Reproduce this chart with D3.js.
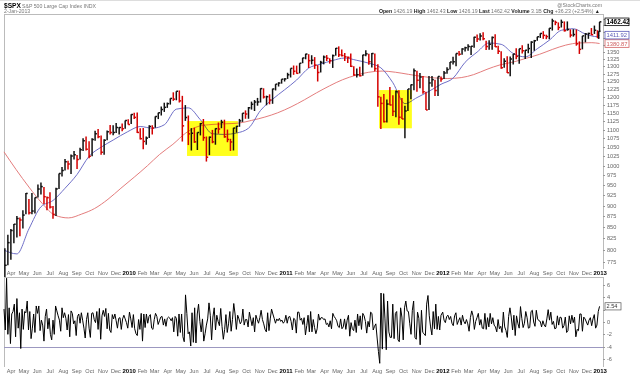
<!DOCTYPE html>
<html><head><meta charset="utf-8">
<script src="https://cdn.jsdelivr.net/npm/d3@7"></script>
<style>
body{margin:0;background:#fff}
svg{display:block;font-family:"Liberation Sans",Arial,sans-serif}
</style></head><body>
<svg width="640" height="375"></svg>
<script>
// weekly bars (Fri), then Dec 31 2012 and Jan 2 2013
const close09 = [768.5,815.9,842.5,856.6,869.6,866.2,877.5,929.2,882.9,887.0,919.1,940.1,946.2,921.2,918.9,896.4,879.1,940.4,979.3,987.5,1010.5,1004.1,1026.1,1028.9,1016.4,1042.7,1068.3,1044.4,1025.2,1071.5,1087.7,1079.6,1036.2,1069.3,1093.5,1091.4,1091.5,1106.0,1106.4,1102.5,1126.5,1115.1]
const high09 = [804,833.0,845.6,856.9,875.6,871.8,888.7,930.2,915.6,930.2,919.1,951.7,956.2,945.0,922.0,931.9,898.7,943.0,979.8,996.7,1018.0,1012.9,1029.6,1039.5,1028.5,1048.2,1074.8,1080.2,1066.3,1075.1,1096.6,1101.4,1083.0,1072.0,1097.6,1113.7,1112.4,1119.1,1107.3,1117.7,1126.5,1130.4]
const low09 = [745,768.6,779.8,814.5,826.8,829.9,847.1,879.2,878.9,879.6,881.5,919.0,926.4,903.8,888.9,893.0,869.3,875.3,940.0,972.0,987.0,990.0,978.5,1016.2,991.0,1016.4,1039.5,1041.2,1019.9,1025.2,1068.0,1075.0,1029.4,1029.4,1069.3,1086.0,1083.7,1090.2,1085.9,1095.4,1102.5,1115.0]
const close10 = [1145.0,1136.0,1091.8,1073.9,1066.2,1075.5,1109.2,1104.5,1138.7,1150.0,1159.9,1166.6,1178.1,1194.4,1192.1,1217.3,1186.7,1110.9,1135.7,1087.7,1089.4,1064.9,1091.6,1117.5,1076.8,1022.6,1078.0,1064.9,1102.7,1101.6,1121.6,1079.3,1071.7,1064.6,1104.5,1109.6,1125.6,1148.7,1146.2,1165.2,1176.2,1183.1,1183.3,1225.9,1199.2,1199.7,1189.4,1224.7,1240.4,1243.9,1256.8,1257.6]
const high10 = [1145.4,1150.4,1150.5,1103.7,1104.7,1080.0,1112.4,1112.4,1139.0,1150.2,1169.2,1181.0,1181.4,1194.7,1213.9,1217.3,1219.8,1202.6,1173.6,1141.8,1104.3,1105.7,1092.0,1119.3,1131.2,1080.0,1080.0,1099.1,1103.7,1120.9,1128.8,1129.2,1100.1,1073.5,1105.1,1110.9,1131.5,1148.9,1157.2,1167.7,1184.4,1189.4,1196.1,1227.1,1226.8,1203.2,1207.4,1225.6,1240.4,1246.7,1256.8,1260.0]
const low10 = [1116.6,1131.1,1090.2,1071.6,1044.5,1056.5,1075.5,1086.0,1105.4,1131.0,1141.7,1152.6,1165.0,1175.1,1186.8,1188.6,1181.6,1065.8,1125.6,1055.9,1040.8,1062.1,1042.2,1083.2,1067.9,1010.9,1028.3,1061.0,1056.9,1088.0,1104.0,1076.6,1063.9,1039.7,1040.9,1091.2,1108.2,1122.6,1131.9,1131.9,1159.7,1155.3,1171.7,1181.6,1194.1,1173.0,1176.0,1177.6,1219.9,1232.6,1242.0,1249.0]
const close11 = [1271.5,1293.2,1283.4,1276.3,1310.9,1329.2,1343.0,1319.9,1321.2,1304.3,1279.2,1313.8,1332.4,1328.2,1319.7,1337.4,1363.6,1340.2,1337.8,1333.3,1331.1,1300.2,1271.0,1271.5,1268.5,1339.7,1343.8,1316.1,1345.0,1292.3,1199.4,1178.8,1123.5,1176.8,1174.0,1154.2,1216.0,1136.4,1131.4,1155.5,1224.6,1238.3,1285.1,1253.2,1263.9,1215.7,1158.7,1244.3,1255.2,1219.7,1265.3,1257.6]
const high11 = [1278.2,1293.2,1303.0,1302.7,1311.0,1330.0,1344.1,1342.6,1338.9,1332.3,1304.3,1319.2,1337.9,1339.5,1328.2,1341.3,1364.6,1370.6,1359.4,1346.8,1334.0,1345.2,1300.2,1292.5,1298.6,1341.0,1356.5,1343.8,1347.0,1345.0,1307.4,1199.4,1208.5,1190.7,1230.7,1204.4,1220.1,1220.4,1195.9,1171.4,1224.6,1239.0,1292.7,1285.1,1277.6,1267.0,1215.7,1267.1,1267.1,1255.2,1265.4,1265.4]
const low11 = [1257.6,1262.4,1271.3,1275.1,1276.3,1310.9,1324.6,1294.3,1306.9,1291.3,1249.1,1279.2,1307.0,1318.6,1309.4,1294.7,1337.4,1332.7,1334.6,1318.5,1311.8,1297.6,1268.5,1262.7,1265.6,1268.5,1335.6,1305.3,1295.9,1283.0,1168.1,1101.5,1121.1,1121.1,1172.9,1140.1,1136.2,1114.2,1131.1,1074.8,1155.5,1191.5,1220.8,1215.4,1226.6,1209.4,1158.7,1158.7,1231.5,1202.4,1202.4,1248.6]
const close12 = [1277.8,1289.1,1315.4,1316.3,1344.9,1342.6,1361.2,1365.7,1370.0,1370.9,1404.2,1397.1,1408.5,1398.1,1370.3,1378.5,1403.4,1369.1,1353.4,1295.2,1317.8,1278.0,1325.7,1342.8,1335.0,1362.2,1354.7,1356.8,1362.7,1386.0,1391.0,1405.9,1418.2,1411.1,1406.6,1437.9,1465.8,1460.2,1440.7,1460.9,1428.6,1433.2,1411.9,1414.2,1379.9,1359.9,1409.2,1416.2,1418.1,1413.6,1430.2,1402.4,1426.2,1462.4]
const high12 = [1284.6,1296.8,1315.5,1333.5,1345.3,1354.3,1363.4,1368.9,1378.0,1371.9,1405.9,1414.0,1419.2,1422.4,1390.8,1392.8,1406.6,1415.3,1372.9,1353.4,1328.5,1334.9,1334.2,1343.3,1363.5,1362.2,1374.8,1357.8,1380.4,1389.2,1394.2,1405.9,1418.7,1426.7,1413.5,1438.0,1474.5,1467.1,1460.2,1471.0,1464.0,1464.0,1433.8,1434.3,1433.4,1388.8,1409.2,1419.7,1420.9,1438.6,1448.0,1430.2,1426.7,1462.4]
const low12 = [1257.6,1274.6,1289.1,1306.1,1300.5,1337.4,1340.4,1352.3,1354.9,1340.0,1365.7,1386.9,1391.6,1392.8,1357.4,1358.8,1358.8,1367.9,1343.1,1291.9,1295.2,1277.8,1266.7,1306.6,1324.4,1309.3,1345.3,1325.4,1346.0,1329.2,1354.7,1391.0,1401.4,1398.0,1397.0,1396.6,1429.1,1449.6,1430.5,1440.7,1425.5,1428.6,1403.3,1406.3,1373.0,1343.4,1359.9,1385.4,1398.2,1411.6,1416.4,1401.6,1398.1,1426.2]

// moving averages
const ma50Dates = ['2009-03-18','2009-04-17','2009-05-15','2009-06-12','2009-07-10','2009-08-07','2009-09-04','2009-10-02','2009-10-30','2009-11-27','2009-12-31','2010-01-29','2010-02-26','2010-03-26','2010-04-23','2010-05-21','2010-06-18','2010-07-16','2010-08-13','2010-09-10','2010-10-08','2010-11-05','2010-12-03','2010-12-31','2011-01-28','2011-02-25','2011-03-25','2011-04-21','2011-05-20','2011-06-17','2011-07-15','2011-08-12','2011-09-09','2011-10-07','2011-11-04','2011-12-02','2011-12-30','2012-01-27','2012-02-24','2012-03-23','2012-04-20','2012-05-18','2012-06-15','2012-07-13','2012-08-10','2012-09-07','2012-10-05','2012-11-02','2012-11-30','2012-12-28','2013-01-02']
const ma50 = [800,792,846,897,912,942,977,1025,1050,1070,1094,1109,1104,1114,1161,1165,1129,1088,1086,1090,1104,1157,1192,1222,1254,1294,1308,1320,1329,1321,1311,1295,1245,1178,1197,1217,1240,1260,1314,1350,1383,1378,1345,1333,1362,1393,1430,1436,1416,1406,1412]
const ma200Dates = ['2009-03-18','2009-04-15','2009-05-15','2009-06-15','2009-07-15','2009-08-15','2009-09-15','2009-10-15','2009-11-15','2009-12-15','2010-01-15','2010-02-15','2010-03-15','2010-04-15','2010-05-15','2010-06-15','2010-07-15','2010-08-15','2010-09-15','2010-10-15','2010-11-15','2010-12-15','2011-01-15','2011-02-15','2011-03-15','2011-04-15','2011-05-15','2011-06-15','2011-07-15','2011-08-15','2011-09-15','2011-10-15','2011-11-15','2011-12-15','2012-01-15','2012-02-15','2012-03-15','2012-04-15','2012-05-15','2012-06-15','2012-07-15','2012-08-15','2012-09-15','2012-10-15','2012-11-15','2012-12-15','2013-01-02']
const ma200 = [1037,990,945,905,877,871,880,893,915,942,970,1000,1030,1058,1090,1110,1115,1117,1119,1127,1137,1150,1168,1190,1212,1235,1255,1270,1280,1284,1280,1273,1266,1261,1259,1262,1272,1290,1305,1315,1328,1342,1360,1375,1383,1384,1381]

// daily % change, sampled roughly every other session
const pct09 = [2.1,-1.3,7.1,-2.0,2.3,-3.5,1.3,
  1.7,2.9,-2.4,3.8,-1.0,1.5,-4.3,2.1,-1.2,1.7,
  1.5,3.4,-1.3,1.7,-2.7,-1.0,1.3,-1.7,2.6,1.4,
  2.6,-1.4,0.3,-0.5,-3.1,0.9,2.1,-1.1,0.6,-2.0,
  -2.9,0.3,-2.0,2.6,1.8,1.0,0.3,-1.5,2.3,0.7,
  1.5,0.6,-1.3,1.2,-2.4,1.8,1.4,-0.3,0.2,-2.2,
  0.9,1.3,-0.2,1.5,0.3,-1.0,-2.6,0.4,1.5,-1.0,
  -2.5,1.4,1.5,0.4,-0.1,1.7,-1.2,2.2,-2.8,1.0,
  1.9,0.9,2.2,-1.1,1.4,-1.3,-1.7,1.2,0.5,1.3,
  0.2,-1.0,0.6,0.7,-1.2,0.5,1.1,0.5,-0.1,-1.0]
const pct10 = [1.6,0.5,-0.9,1.2,-1.1,-1.9,-2.2,0.4,-1.2,1.4,
  -3.1,1.3,-0.9,1.3,-0.2,0.9,1.2,-1.0,-1.2,0.4,
  1.4,0.9,-0.4,0.2,0.8,0.9,-0.5,0.5,-0.7,0.6,
  0.8,0.6,0.2,0.7,-1.6,0.9,0.6,-2.3,1.3,-1.7,
  1.3,-2.4,-3.2,4.4,1.4,-1.9,-1.6,-3.9,1.5,-3.3,
  2.3,-3.4,1.3,2.9,0.1,-1.6,0.5,-3.1,-1.9,-0.5,
  0.5,3.1,1.1,-2.9,0.8,2.3,-1.3,1.1,0.1,-0.6,
  2.2,-0.7,-2.8,-1.2,1.2,-1.7,-0.3,1.7,-1.5,0.4,
  3.0,1.3,-1.2,1.1,0.5,-0.3,0.1,2.1,-0.5,0.4,
  0.4,-0.8,1.6,0.5,-0.6,0.7,-1.6,1.1,0.4,-0.2,
  0.7,1.9,0.4,-0.3,-1.2,-1.6,1.5,-1.4,0.5,2.1,
  1.3,0.6,-0.2,0.5,0.2,0.6,0.1,0.3,-0.2,0.1]
const pct11 = [1.1,-0.2,0.8,0.9,0.1,-1.3,0.6,0.4,-1.8,1.6,
  1.6,0.3,0.6,-0.4,0.7,-2.1,-0.6,1.1,-1.6,1.7,
  -1.6,0.4,-0.9,-1.9,-1.1,1.3,0.3,0.7,0.7,0.4,
  0.5,-0.4,-0.2,-0.8,0.2,-1.1,1.4,0.9,0.6,0.2,
  -0.7,-0.9,0.5,-1.1,-0.8,0.5,-1.2,0.3,1.1,-2.3,
  -0.1,-1.1,-1.4,0.3,-1.7,1.3,-0.6,1.0,-1.2,1.4,
  1.0,0.1,-1.8,0.1,-0.8,1.6,1.4,-1.3,-0.7,-0.3,
  -2.6,-4.8,-6.7,4.7,-4.4,4.6,0.5,-4.5,3.4,-1.6,
  -2.5,-2.5,2.9,-2.7,1.4,1.7,-2.9,-3.2,2.3,0.8,
  -2.9,2.3,3.4,1.8,1.7,-0.2,-2.0,1.9,3.4,-2.5,
  -2.8,1.6,0.6,-3.7,1.9,-1.7,-1.9,-2.2,2.9,4.3,
  1.0,-0.8,-2.1,1.7,-1.1,2.9,-1.2,0.9,-1.3,1.1]
const pct12 = [1.6,0.3,-0.1,0.9,1.1,0.4,0.9,-0.2,-0.6,1.0,
  1.5,-0.4,0.2,0.7,-0.5,1.1,0.1,-0.3,0.4,-0.3,
  -1.5,0.7,1.8,1.0,-1.2,0.1,0.7,1.4,-0.5,0.4,
  -1.0,-1.1,1.4,-1.2,0.7,-0.8,1.4,-0.3,0.7,-0.5,
  -0.8,-1.6,0.4,-1.1,-0.7,-1.7,1.6,-0.8,-1.4,-2.5,
  0.9,2.3,0.8,-1.3,1.1,-2.2,1.0,-0.2,-1.0,2.5,
  0.6,-0.9,-0.2,1.7,0.7,-1.0,-0.9,1.7,1.9,0.0,
  -0.7,1.9,0.5,0.2,0.1,-0.8,0.2,-0.5,-0.8,0.5,
  2.0,0.3,1.6,-0.4,0.1,-1.1,-1.0,1.0,-0.5,0.8,
  0.7,-1.0,-0.6,0.8,-1.7,-1.4,1.0,-0.3,1.1,-0.1,
  0.8,-2.4,-1.2,-1.4,1.3,1.3,-1.5,0.8,0.5,0.0,
  -0.5,0.3,0.7,-0.6,0.5,1.2,-1.0,-0.5,1.7,2.54]
const pctSpans = [['2009-03-18','2009-12-31'],['2010-01-04','2010-12-31'],['2011-01-03','2011-12-30'],['2012-01-03','2013-01-02']]

// highlighted ranges
const boxes = [
  { from: '2010-05-18', to: '2010-09-13', lo: 1026, hi: 1125 },
  { from: '2011-08-08', to: '2011-10-23', lo: 1104, hi: 1221 }
]

const priceTicks = d3.range(775, 1476, 25)
const pctTicks = [6, 4, 2, 0, -2, -4, -6]
const last = { close: 1462.42, ma50: 1411.92, ma200: 1380.87, pct: 2.54 }

const parse = d3.utcParse('%Y-%m-%d')
const svg = d3.select('svg')

const x = d3.scaleUtc()
  .domain([parse('2009-03-18'), parse('2013-01-03')])
  .range([4, 600])
const y = d3.scaleLog().domain([761, 1493]).range([269, 14])
const y2 = d3.scaleLinear().domain([-7.3, 7.3]).range([367, 277])

// bars
const dates = d3.utcFriday.range(parse('2009-03-20'), parse('2012-12-29'))
  .concat([parse('2012-12-31'), parse('2013-01-02')])
const closes = close09.concat(close10, close11, close12)
const highs = high09.concat(high10, high11, high12)
const lows = low09.concat(low10, low11, low12)
const bars = dates.map((d, i) => ({
  date: d, close: closes[i], high: highs[i], low: lows[i],
  down: i > 0 && closes[i] < closes[i - 1]
}))

const axisCol = '#999'
const txtCol = '#666'

// frames
const frame = svg.append('g').attr('stroke', '#bbb').attr('fill', 'none').attr('shape-rendering', 'crispEdges')
frame.append('line').attr('x1', 0).attr('x2', 640).attr('y1', 0.5).attr('y2', 0.5).attr('stroke', '#ddd')
frame.append('path').attr('d', `M4.5,269 V14.5 H603.5 V269`)
frame.append('path').attr('d', `M4.5,367 V277.5 H603.5 V367`)

const boxRects = sel => sel.selectAll('rect')
  .data(boxes)
  .join('rect')
  .attr('x', d => x(parse(d.from)))
  .attr('width', d => x(parse(d.to)) - x(parse(d.from)))
  .attr('y', d => y(d.hi))
  .attr('height', d => y(d.lo) - y(d.hi))
  .attr('fill', '#ffff55')

// yellow highlights under everything else
svg.append('g').call(boxRects)

const line = d3.line().curve(d3.curveMonotoneX)
svg.append('path')
  .attr('d', line(ma200.map((v, i) => [x(parse(ma200Dates[i])), y(v)])))
  .attr('fill', 'none').attr('stroke', '#e47d7d').attr('stroke-width', 1)
svg.append('path')
  .attr('d', line(ma50.map((v, i) => [x(parse(ma50Dates[i])), y(v)])))
  .attr('fill', 'none').attr('stroke', '#6f6fc8').attr('stroke-width', 1)

const g = svg.append('g').attr('class', 'bars')
const bar = g.selectAll('g').data(bars).join('g')
  .attr('stroke', d => d.down ? '#d40000' : '#111')
  .attr('stroke-width', 1.5)
bar.append('line')
  .attr('x1', d => x(d.date)).attr('x2', d => x(d.date))
  .attr('y1', d => y(d.high)).attr('y2', d => y(d.low))
bar.append('line')
  .attr('x1', d => x(d.date)).attr('x2', d => x(d.date) + 1.8)
  .attr('y1', d => y(d.close)).attr('y2', d => y(d.close))

// boxes again, multiplied, so the lines tint through
svg.append('g').style('mix-blend-mode', 'multiply').call(boxRects)

// price axis; labels hidden behind the value boxes are dropped
const boxYs = [last.close, last.ma50, last.ma200].map(v => y(v))
const visTicks = priceTicks.filter(t => boxYs.every(b => Math.abs(y(t) - b) > 7))
svg.append('g').attr('font-size', 5.6).attr('fill', txtCol)
  .selectAll('text').data(visTicks).join('text')
  .attr('x', 607).attr('y', d => y(d) + 2).text(d => d)
svg.append('g').attr('stroke', axisCol).attr('shape-rendering', 'crispEdges')
  .selectAll('line').data(priceTicks).join('line')
  .attr('x1', 603).attr('x2', 605).attr('y1', d => Math.round(y(d)) + 0.5).attr('y2', d => Math.round(y(d)) + 0.5)

function valueBox(v, yy, col, bold, w) {
  const t = svg.append('g').attr('transform', `translate(605,${yy})`)
  t.append('rect').attr('x', 0).attr('y', -3.8).attr('width', w).attr('height', 7.6)
    .attr('fill', '#fff').attr('stroke', col).attr('stroke-width', 0.8)
  t.append('text').attr('x', 1.5).attr('y', 2.2).attr('font-size', bold ? 6.4 : 5.8)
    .attr('font-weight', bold ? 'bold' : 'normal').attr('fill', col).text(v.toFixed(2))
}
valueBox(last.ma200, y(last.ma200), '#d06060', false, 24)
valueBox(last.ma50, y(last.ma50), '#5a5ab8', false, 24)
valueBox(last.close, y(last.close), '#000', true, 24)

// month labels
const months = d3.utcMonth.range(parse('2009-04-01'), parse('2013-01-02'))
function monthRow(yy) {
  svg.append('g').selectAll('text').data(months).join('text')
    .attr('x', d => x(d) + 1).attr('y', yy)
    .attr('text-anchor', 'middle')
    .attr('font-size', d => d.getUTCMonth() === 0 ? 6 : 5.6)
    .attr('font-weight', d => d.getUTCMonth() === 0 ? 'bold' : 'normal')
    .attr('fill', d => d.getUTCMonth() === 0 ? '#000' : txtCol)
    .text(d => d.getUTCMonth() === 0 ? d.getUTCFullYear() : d3.utcFormat('%b')(d))
}
monthRow(275)
monthRow(373)

// lower panel
const pctPts = []
;[pct09, pct10, pct11, pct12].forEach((arr, k) => {
  const t = d3.scaleLinear().domain([0, arr.length - 1])
    .range([parse(pctSpans[k][0]), parse(pctSpans[k][1])])
  arr.forEach((v, i) => pctPts.push([x(t(i)), y2(v)]))
})
svg.append('line').attr('x1', 4).attr('x2', 603)
  .attr('y1', Math.round(y2(-4)) + 0.5).attr('y2', Math.round(y2(-4)) + 0.5)
  .attr('stroke', '#9c98c0').attr('shape-rendering', 'crispEdges')
svg.append('path').attr('d', d3.line()(pctPts))
  .attr('fill', 'none').attr('stroke', '#000').attr('stroke-width', 1)

const visPct = pctTicks.filter(t => Math.abs(y2(t) - y2(last.pct)) > 6)
svg.append('g').attr('font-size', 5.6).attr('fill', txtCol)
  .selectAll('text').data(visPct).join('text')
  .attr('x', 607).attr('y', d => y2(d) + 2).text(d => d)
svg.append('g').attr('stroke', axisCol).attr('shape-rendering', 'crispEdges')
  .selectAll('line').data(pctTicks).join('line')
  .attr('x1', 603).attr('x2', 605).attr('y1', d => Math.round(y2(d)) + 0.5).attr('y2', d => Math.round(y2(d)) + 0.5)
{
  const t = svg.append('g').attr('transform', `translate(605,${y2(last.pct)})`)
  t.append('rect').attr('x', 0).attr('y', -3.6).attr('width', 16).attr('height', 7.2)
    .attr('fill', '#fff').attr('stroke', '#555').attr('stroke-width', 0.7)
  t.append('text').attr('x', 1.5).attr('y', 2.1).attr('font-size', 5.6).attr('fill', '#333').text(last.pct.toFixed(2))
}

// header
const hd = svg.append('g')
hd.append('text').attr('x', 4).attr('y', 7.5).attr('font-size', 6.6).attr('font-weight', 'bold').text('$SPX')
hd.append('text').attr('x', 22).attr('y', 7.5).attr('font-size', 5.2).attr('fill', '#777').text('S&P 500 Large Cap Index  INDX')
hd.append('text').attr('x', 4).attr('y', 13).attr('font-size', 5.2).attr('fill', '#777').text('2-Jan-2013')
hd.append('text').attr('x', 602).attr('y', 7).attr('text-anchor', 'end').attr('font-size', 5.2).attr('fill', '#777').text('@StockCharts.com')
const info = hd.append('text').attr('x', 600).attr('y', 13).attr('text-anchor', 'end').attr('font-size', 5.2).attr('fill', '#777')
;[['Open', '1426.19'], ['High', '1462.43'], ['Low', '1426.19'], ['Last', '1462.42'], ['Volume', '3.1B'], ['Chg', '+36.23 (+2.54%)']].forEach(([k, v]) => {
  info.append('tspan').attr('font-weight', 'bold').attr('fill', '#222').text(k + ' ')
  info.append('tspan').text(v + '  ')
})
info.append('tspan').attr('fill', '#222').text('\u25B2')
</script>
</body></html>
